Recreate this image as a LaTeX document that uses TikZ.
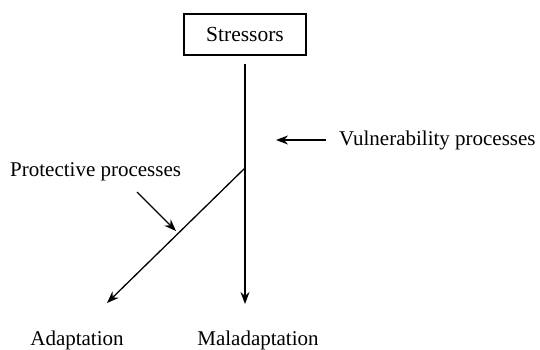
\documentclass[tikz,border=0pt]{standalone}
\usepackage{fontspec}
\setmainfont{Liberation Serif}
\usetikzlibrary{arrows.meta}
\tikzset{
  lbl/.style={inner sep=0pt, font=\fontsize{21}{25}\selectfont},
  boxnode/.style={draw, line width=1.2pt, minimum width=122pt, minimum height=41pt, inner sep=0pt, font=\fontsize{21.5}{25}\selectfont},
  link/.style={line width=1.3pt, -{Stealth[length=12pt,width=9pt]}},
  plain/.style={line width=1.3pt}
}
\begin{document}
\begin{tikzpicture}[x=1pt,y=-1pt]
\useasboundingbox (0,0) rectangle (540,350);
\node[boxnode] (stress) at (245,34.5) {Stressors};
\coordinate (top) at (245,64);
\coordinate (branch) at (245,168);
\coordinate (malend) at (245,304);
\coordinate (adend) at (107,303);
\node[lbl, anchor=west] (vul) at (339,140) {Vulnerability processes};
\coordinate (vstart) at (326,140);
\coordinate (vend) at (276,140);
\node[lbl, anchor=west] (prot) at (10,172) {Protective processes};
\coordinate (pstart) at (137,192);
\coordinate (pend) at (176,231);
\node[lbl] (adapt) at (77,340) {Adaptation};
\node[lbl] (mal) at (258,340) {Maladaptation};
\draw[link] (top) -- (malend);
\draw[link] (branch) -- (adend);
\draw[link] (vstart) -- (vend);
\draw[link] (pstart) -- (pend);
\end{tikzpicture}
\end{document}
